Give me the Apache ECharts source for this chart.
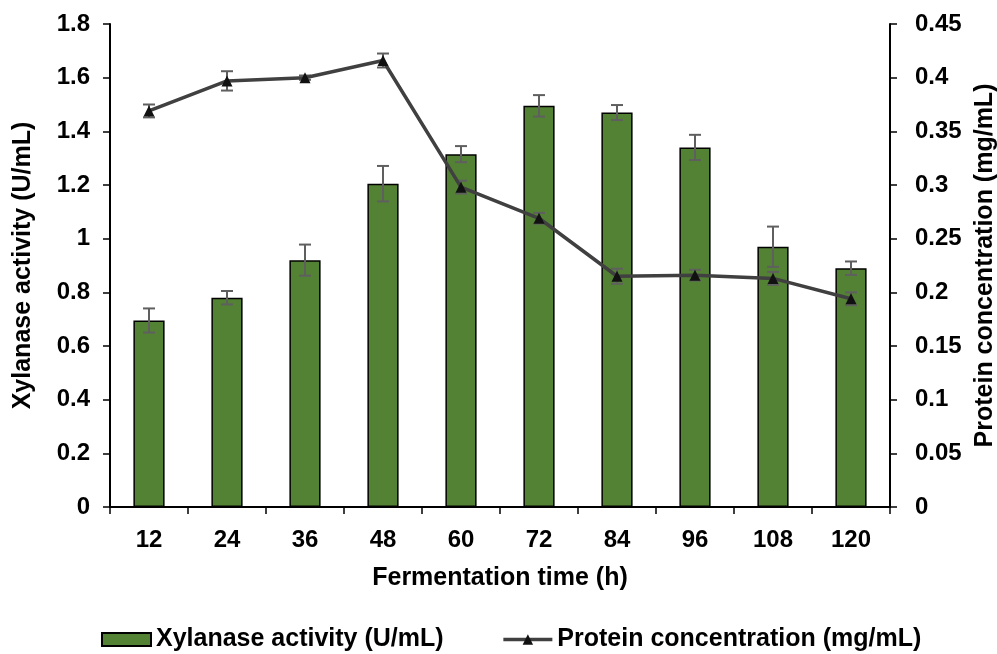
<!DOCTYPE html>
<html>
<head>
<meta charset="utf-8">
<script src="https://cdn.jsdelivr.net/npm/echarts@6/dist/echarts.min.js"></script>
<style>html,body{margin:0;padding:0;background:#fff}#c{width:997px;height:654px}</style>
</head>
<body>
<div id="c"></div>
<script>
const categories = ['12','24','36','48','60','72','84','96','108','120'];
const xylanase = [0.695, 0.78, 0.92, 1.205, 1.315, 1.495, 1.47, 1.34, 0.97, 0.89];
const xylanaseErr = [0.045, 0.025, 0.058, 0.066, 0.03, 0.04, 0.028, 0.047, 0.075, 0.025];
const protein = [0.369, 0.397, 0.400, 0.416, 0.298, 0.269, 0.215, 0.216, 0.213, 0.194];
const proteinErr = [0.006, 0.009, 0.002, 0.0065, 0.006, 0.005, 0.007, 0.005, 0.006, 0.006];
const leftTicks = {min: 0, max: 1.8, interval: 0.2};
const rightTicks = {min: 0, max: 0.45, interval: 0.05};

const FONT = 'Liberation Sans, Arial, sans-serif';
const chart = echarts.init(document.getElementById('c'));

function errData(vals, errs) {
  return vals.map((v, i) => [i, v - errs[i], v + errs[i]]);
}
function errRender(params, api) {
  const x = api.value(0);
  const lo = api.coord([x, api.value(1)]);
  const hi = api.coord([x, api.value(2)]);
  const w = 6;
  const st = {stroke: '#5f5f5f', lineWidth: 2};
  return {
    type: 'group',
    children: [
      {type: 'line', shape: {x1: hi[0], y1: hi[1], x2: lo[0], y2: lo[1]}, style: st},
      {type: 'line', shape: {x1: hi[0] - w, y1: hi[1], x2: hi[0] + w, y2: hi[1]}, style: st},
      {type: 'line', shape: {x1: lo[0] - w, y1: lo[1], x2: lo[0] + w, y2: lo[1]}, style: st}
    ]
  };
}

const tickStyle = {color: '#000', fontFamily: FONT, fontWeight: 'bold', fontSize: 24};
const nameStyle = {color: '#000', fontFamily: FONT, fontWeight: 'bold', fontSize: 25};

chart.setOption({
  animation: false,
  textStyle: {fontFamily: FONT},
  grid: {left: 110, right: 107, top: 24, bottom: 147, containLabel: false, outerBoundsMode: 'none'},
  legend: {
    top: 622,
    left: 96,
    itemWidth: 49,
    itemHeight: 13,
    itemGap: 58,
    data: [
      {name: 'Xylanase activity (U/mL)', icon: 'rect'},
      {name: 'Protein concentration (mg/mL)', lineStyle: {width: 3.5, color: '#404040'}}
    ],
    textStyle: Object.assign({}, nameStyle, {padding: [0, 0, 0, 0]})
  },
  xAxis: {
    type: 'category',
    data: categories,
    name: 'Fermentation time (h)',
    nameLocation: 'middle',
    nameGap: 59,
    nameTextStyle: nameStyle,
    axisLine: {lineStyle: {color: '#000', width: 2}},
    axisTick: {show: true, length: 7, interval: 0, lineStyle: {color: '#000', width: 1.5}},
    axisLabel: Object.assign({}, tickStyle, {margin: 21, interval: 0}),
    splitLine: {show: false}
  },
  yAxis: [
    {
      type: 'value',
      min: leftTicks.min, max: leftTicks.max, interval: leftTicks.interval,
      name: 'Xylanase activity (U/mL)',
      nameLocation: 'middle',
      nameGap: 74,
      nameTextStyle: nameStyle,
      axisLine: {show: true, lineStyle: {color: '#000', width: 2}},
      axisTick: {show: true, length: 7, lineStyle: {color: '#000', width: 1.5}},
      axisLabel: Object.assign({}, tickStyle, {margin: 20}),
      splitLine: {show: false}
    },
    {
      type: 'value',
      position: 'right',
      min: rightTicks.min, max: rightTicks.max, interval: rightTicks.interval,
      name: 'Protein concentration (mg/mL)',
      nameLocation: 'middle',
      nameGap: 77,
      nameRotate: 90,
      nameTextStyle: nameStyle,
      axisLine: {show: true, lineStyle: {color: '#000', width: 2}},
      axisTick: {show: true, length: 7, lineStyle: {color: '#000', width: 1.5}},
      axisLabel: Object.assign({}, tickStyle, {margin: 25}),
      splitLine: {show: false}
    }
  ],
  series: [
    {
      name: 'Xylanase activity (U/mL)',
      type: 'bar',
      data: xylanase,
      barWidth: '40%',
      itemStyle: {color: '#548235', borderColor: '#000', borderWidth: 1.5},
      z: 2
    },
    {
      name: 'barErr',
      type: 'custom',
      data: errData(xylanase, xylanaseErr),
      renderItem: errRender,
      encode: {x: 0, y: [1, 2]},
      z: 3
    },
    {
      name: 'lineErr',
      type: 'custom',
      yAxisIndex: 1,
      data: errData(protein, proteinErr),
      renderItem: errRender,
      encode: {x: 0, y: [1, 2]},
      z: 4
    },
    {
      name: 'Protein concentration (mg/mL)',
      type: 'line',
      yAxisIndex: 1,
      data: protein,
      symbol: 'triangle',
      symbolSize: 11,
      lineStyle: {color: '#404040', width: 3.5},
      itemStyle: {color: '#111'},
      z: 5
    }
  ]
});
</script>
</body>
</html>
